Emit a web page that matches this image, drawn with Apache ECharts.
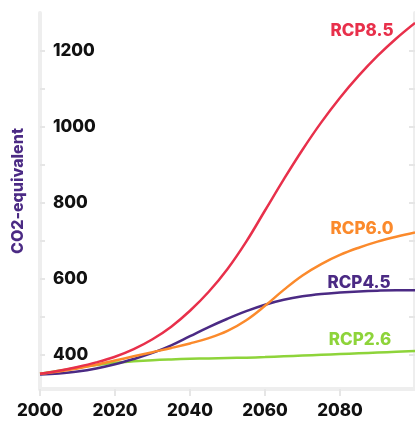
<!DOCTYPE html>
<html><head><meta charset="utf-8">
<script src="https://cdn.jsdelivr.net/npm/echarts@6/dist/echarts.min.js"></script>
<style>html,body{margin:0;padding:0;background:#fff}#c{width:415px;height:423px}</style>
</head><body><div id="c"></div>
<script>
const years = [2000,2005,2010,2015,2020,2025,2030,2035,2040,2045,2050,2055,2060,2065,2070,2075,2080,2085,2090,2095,2100];
const rcp85 = [350,358,368,380,395,415,441,474,516,566,626,698,780,862,940,1012,1077,1135,1187,1233,1274];
const rcp60 = [350,356,364,374,385,396,407,418,430,444,463,491,529,571,609,639,663,682,698,711,722];
const rcp45 = [348,351,356,364,375,389,405,425,449,473,495,515,532,545,554,560,564,567,569,570,570];
const rcp26 = [350,358,366,373,379,383,386,388,389.5,390.5,391.5,392.5,394,396,398,400,402,404,406,408,410];
const yLabels = [400,600,800,1000,1200];
const yTicks = [400,500,600,700,800,900,1000,1100,1200];
const seriesNames = ['RCP8.5','RCP6.0','RCP4.5','RCP2.6'];
const colors = ['#e8304b','#fb8a2c','#4b2a84','#8ed43a'];
const yTitle = 'CO2-equivalent';

const pair = arr => years.map((y,i)=>[y,arr[i]]);
const chart = echarts.init(document.getElementById('c'));
const font = 'Inter';
chart.setOption({
  animation:false,
  grid:{left:40,right:-3,top:13,bottom:34},
  xAxis:{type:'value',min:2000,max:2100,interval:20,
    axisLine:{show:true,onZero:false,lineStyle:{color:'#eeeeee',width:4}},
    axisTick:{show:true,length:7,lineStyle:{color:'#e6e6e6',width:2}},
    splitLine:{show:false},
    axisLabel:{color:'#111',fontFamily:font,fontWeight:800,fontSize:17,margin:13,showMaxLabel:false,formatter:v=>String(v)}},
  yAxis:[{type:'value',min:310,max:1300,position:'left',
    axisLine:{show:true,lineStyle:{color:'#eeeeee',width:4}},
    axisTick:{show:true,inside:true,length:5,customValues:yTicks,lineStyle:{color:'#e6e6e6',width:2}},
    splitLine:{show:false},
    axisLabel:{inside:true,customValues:yLabels,color:'#111',fontFamily:font,fontWeight:800,fontSize:17,margin:13,formatter:v=>String(v)}},
   {type:'value',min:310,max:1300,position:'right',
    axisLine:{show:true,lineStyle:{color:'#eeeeee',width:4}},
    axisTick:{show:true,inside:true,length:6,customValues:yTicks,lineStyle:{color:'#e6e6e6',width:2}},
    splitLine:{show:false},axisLabel:{show:false}}],
  series:[rcp85,rcp60,rcp45,rcp26].map((d,i)=>({
    name:seriesNames[i],type:'line',data:pair(d),smooth:0.4,showSymbol:false,
    lineStyle:{color:colors[i],width:2.5},z:10-i})),
  graphic:[
    {type:'text',x:18,y:191,rotation:Math.PI/2,style:{text:yTitle,fill:'#4b2a84',font:'800 16px Inter',align:'center',verticalAlign:'middle'}},
    {type:'text',x:362,y:31,style:{text:seriesNames[0],fill:colors[0],font:'800 17px Inter',align:'center',verticalAlign:'middle'}},
    {type:'text',x:362,y:229,style:{text:seriesNames[1],fill:colors[1],font:'800 17px Inter',align:'center',verticalAlign:'middle'}},
    {type:'text',x:359,y:283,style:{text:seriesNames[2],fill:colors[2],font:'800 17px Inter',align:'center',verticalAlign:'middle'}},
    {type:'text',x:360,y:340,style:{text:seriesNames[3],fill:colors[3],font:'800 17px Inter',align:'center',verticalAlign:'middle'}}
  ]
});
</script></body></html>
